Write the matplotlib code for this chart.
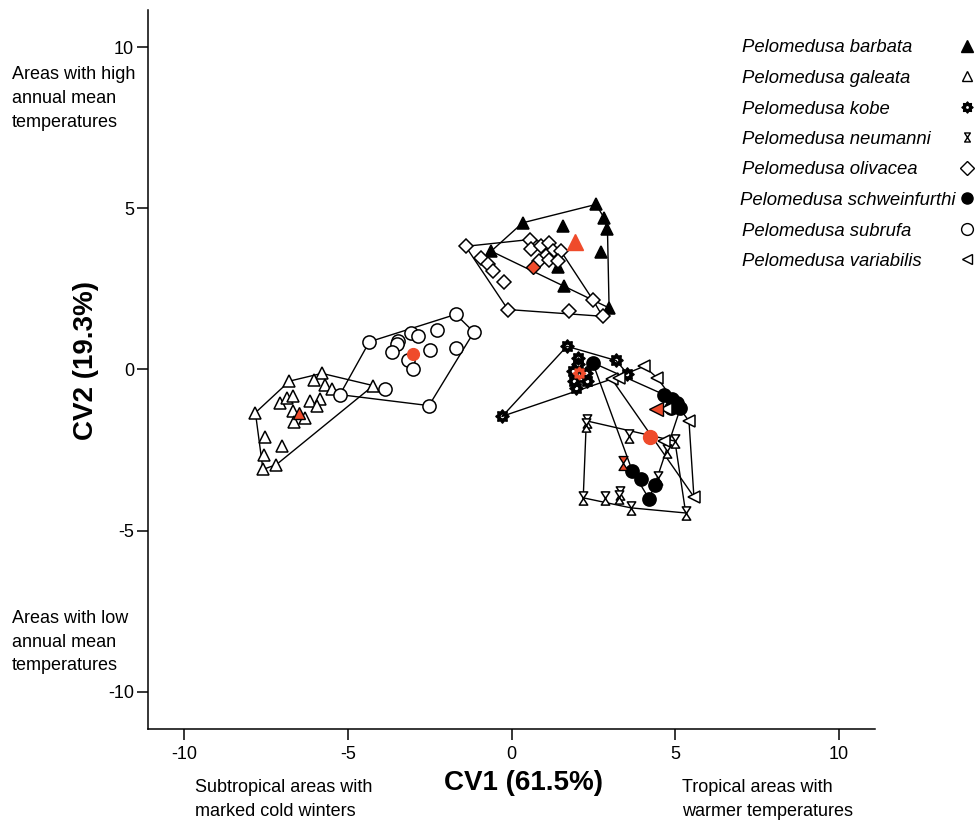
import numpy as np
import matplotlib
matplotlib.use("Agg")
import matplotlib.pyplot as plt
from matplotlib.path import Path
from matplotlib.lines import Line2D

plt.rcParams['font.family'] = ['Liberation Sans', 'DejaVu Sans']

RED = '#EF4B2B'

species = ['Pelomedusa barbata', 'Pelomedusa galeata', 'Pelomedusa kobe',
           'Pelomedusa neumanni', 'Pelomedusa olivacea', 'Pelomedusa schweinfurthi',
           'Pelomedusa subrufa', 'Pelomedusa variabilis']

barbata_x = [2.58, 2.83, 2.93, 1.56, 0.34, -0.62, 2.73, 1.41, 1.61, 2.98]
barbata_y = [5.12, 4.70, 4.36, 4.44, 4.55, 3.67, 3.64, 3.18, 2.60, 1.91]
barbata_c = (1.95, 3.95)

galeata_x = [-6.78, -5.79, -6.03, -5.69, -5.49, -4.22, -7.06, -6.86, -6.66, -6.15, -5.84,
             -5.95, -6.66, -6.30, -6.64, -7.82, -7.52, -7.01, -7.57, -7.18, -7.59]
galeata_y = [-0.36, -0.12, -0.34, -0.47, -0.62, -0.50, -1.03, -0.88, -0.83, -0.98, -0.93,
             -1.12, -1.29, -1.50, -1.63, -1.34, -2.09, -2.38, -2.64, -2.95, -3.10]
galeata_c = (-6.50, -1.34)

kobe_x = [1.69, 2.02, 2.02, 1.87, 2.27, 2.30, 1.92, 1.97, 3.19, 3.54, -0.28]
kobe_y = [0.72, 0.35, 0.16, -0.05, -0.12, -0.36, -0.36, -0.57, 0.28, -0.13, -1.45]
kobe_c = (2.05, -0.10)

neumanni_x = [2.32, 2.28, 3.59, 4.99, 4.76, 4.48, 2.19, 2.86, 3.31, 3.29, 3.64, 5.32]
neumanni_y = [-1.60, -1.72, -2.05, -2.22, -2.53, -3.36, -3.98, -3.98, -3.82, -3.95, -4.29, -4.45]
neumanni_c = (3.41, -2.89)

olivacea_x = [-1.40, -0.92, -0.72, -0.57, -0.23, -0.11, 0.55, 0.60, 0.90, 1.16, 1.26, 1.51,
              1.06, 0.85, 1.16, 1.41, 1.77, 2.48, 2.78]
olivacea_y = [3.82, 3.46, 3.26, 3.05, 2.71, 1.86, 4.03, 3.74, 3.82, 3.93, 3.67, 3.67,
              3.51, 3.36, 3.41, 3.36, 1.81, 2.17, 1.65]
olivacea_c = (0.65, 3.18)

schwein_x = [2.48, 4.66, 4.91, 5.06, 5.16, 4.86, 3.69, 3.95, 4.38, 4.20]
schwein_y = [0.21, -0.78, -0.93, -1.03, -1.19, -1.19, -3.15, -3.41, -3.57, -4.01]
schwein_c = (4.22, -2.09)

subrufa_x = [-1.70, -1.15, -2.29, -3.08, -2.85, -3.46, -3.51, -3.66, -2.48, -1.68, -3.16,
             -3.02, -4.34, -3.85, -5.24, -2.52]
subrufa_y = [1.71, 1.16, 1.24, 1.14, 1.03, 0.88, 0.78, 0.54, 0.62, 0.67, 0.28,
             0.03, 0.86, -0.62, -0.78, -1.12]
subrufa_c = (-3.02, 0.49)

variab_x = [3.07, 3.29, 4.05, 4.45, 4.71, 5.42, 4.66, 5.57]
variab_y = [-0.31, -0.25, 0.10, -0.26, -1.24, -1.60, -2.22, -3.95]
variab_c = (4.40, -1.24)

xticks = [-10, -5, 0, 5, 10]
yticks = [-10, -5, 0, 5, 10]


def star_marker(n=8, r_out=1.0, r_in=0.72, r_hole=0.38):
    verts, codes = [], []
    pts = []
    for i in range(2 * n):
        a = np.pi / 2 + i * np.pi / n
        r = r_out if i % 2 == 0 else r_in
        pts.append((r * np.cos(a), r * np.sin(a)))
    verts += pts + [pts[0]]
    codes += [Path.MOVETO] + [Path.LINETO] * (len(pts) - 1) + [Path.CLOSEPOLY]
    hole = []
    for i in range(24):
        a = -i * 2 * np.pi / 24
        hole.append((r_hole * np.cos(a), r_hole * np.sin(a)))
    verts += hole + [hole[0]]
    codes += [Path.MOVETO] + [Path.LINETO] * (len(hole) - 1) + [Path.CLOSEPOLY]
    return Path(verts, codes)


KOBE = star_marker()
HOURGLASS = Path([(-0.32, 0.5), (0.32, 0.5), (-0.32, -0.5), (0.32, -0.5), (-0.32, 0.5)],
                 [Path.MOVETO, Path.LINETO, Path.LINETO, Path.LINETO, Path.CLOSEPOLY])


def hull(xs, ys):
    pts = sorted(set(zip(xs, ys)))
    def cross(o, a, b):
        return (a[0] - o[0]) * (b[1] - o[1]) - (a[1] - o[1]) * (b[0] - o[0])
    lower, upper = [], []
    for p in pts:
        while len(lower) >= 2 and cross(lower[-2], lower[-1], p) <= 0:
            lower.pop()
        lower.append(p)
    for p in reversed(pts):
        while len(upper) >= 2 and cross(upper[-2], upper[-1], p) <= 0:
            upper.pop()
        upper.append(p)
    h = lower[:-1] + upper[:-1]
    h.append(h[0])
    return [p[0] for p in h], [p[1] for p in h]


styles = {
    'Pelomedusa barbata': dict(marker='^', ms=8.5, fc='black', ec='black', lms=8),
    'Pelomedusa galeata': dict(marker='^', ms=8.5, fc='white', ec='black', lms=7),
    'Pelomedusa kobe': dict(marker=KOBE, ms=9.5, fc='black', ec='black', lms=8),
    'Pelomedusa neumanni': dict(marker=HOURGLASS, ms=9.5, fc='white', ec='black', lms=6.5),
    'Pelomedusa olivacea': dict(marker='D', ms=7, fc='white', ec='black', lms=7),
    'Pelomedusa schweinfurthi': dict(marker='o', ms=9.5, fc='black', ec='black', lms=8),
    'Pelomedusa subrufa': dict(marker='o', ms=9.5, fc='white', ec='black', lms=8.5),
    'Pelomedusa variabilis': dict(marker='<', ms=8.5, fc='white', ec='black', lms=7.5),
}
data = {
    'Pelomedusa barbata': (barbata_x, barbata_y, barbata_c),
    'Pelomedusa galeata': (galeata_x, galeata_y, galeata_c),
    'Pelomedusa kobe': (kobe_x, kobe_y, kobe_c),
    'Pelomedusa neumanni': (neumanni_x, neumanni_y, neumanni_c),
    'Pelomedusa olivacea': (olivacea_x, olivacea_y, olivacea_c),
    'Pelomedusa schweinfurthi': (schwein_x, schwein_y, schwein_c),
    'Pelomedusa subrufa': (subrufa_x, subrufa_y, subrufa_c),
    'Pelomedusa variabilis': (variab_x, variab_y, variab_c),
}
centroid_edge = {
    'Pelomedusa barbata': RED, 'Pelomedusa galeata': 'black', 'Pelomedusa kobe': RED,
    'Pelomedusa neumanni': 'black', 'Pelomedusa olivacea': 'black',
    'Pelomedusa schweinfurthi': RED, 'Pelomedusa subrufa': RED,
    'Pelomedusa variabilis': 'black',
}
centroid_ms = {
    'Pelomedusa barbata': 11, 'Pelomedusa galeata': 8.5, 'Pelomedusa kobe': 9,
    'Pelomedusa neumanni': 10, 'Pelomedusa olivacea': 7.5, 'Pelomedusa schweinfurthi': 10,
    'Pelomedusa subrufa': 8.5, 'Pelomedusa variabilis': 9.5,
}

W, H = 976, 821
fig = plt.figure(figsize=(9.76, 8.21), dpi=100)
ax = fig.add_axes([148 / W, 1 - 729 / H, (875 - 148) / W, (729 - 10) / H])

for sp in species:
    xs, ys, c = data[sp]
    hx, hy = hull(xs, ys)
    ax.plot(hx, hy, color='black', lw=1.0, zorder=2)

for sp in species:
    xs, ys, c = data[sp]
    st = styles[sp]
    ax.plot(xs, ys, ls='none', marker=st['marker'], ms=st['ms'], mfc=st['fc'],
            mec=st['ec'], mew=1.1, zorder=3)

for sp in species:
    xs, ys, c = data[sp]
    st = styles[sp]
    ax.plot([c[0]], [c[1]], ls='none', marker=st['marker'], ms=centroid_ms[sp], mfc=RED,
            mec=centroid_edge[sp], mew=1.0, zorder=4)

ax.set_xlim(-11.1, 11.1)
ax.set_ylim(-11.15, 11.15)
ax.set_xticks(xticks)
ax.set_yticks(yticks)
ax.set_xticklabels([str(t) for t in xticks])
ax.set_yticklabels([str(t) for t in yticks])
for s in ['top', 'right']:
    ax.spines[s].set_visible(False)
for s in ['left', 'bottom']:
    ax.spines[s].set_linewidth(1.1)
ax.tick_params(axis='both', direction='out', length=8, width=1.1, labelsize=13)
ax.tick_params(axis='x', pad=4.5)
ax.tick_params(axis='y', pad=2)

fig.text(523.5 / W, 1 - 783 / H, 'CV1 (61.5%)', ha='center', va='center',
         fontsize=20, fontweight='bold')
fig.text(86 / W, 1 - 360 / H, 'CV2 (19.3%)', ha='center', va='center',
         fontsize=20, fontweight='bold', rotation=90)

LS = 1.52
fig.text(12 / W, 1 - 98.5 / H, 'Areas with high\nannual mean\ntemperatures',
         ha='left', va='center', fontsize=13, linespacing=LS)
fig.text(12 / W, 1 - 642 / H, 'Areas with low\nannual mean\ntemperatures',
         ha='left', va='center', fontsize=13, linespacing=LS)
fig.text(195 / W, 1 - 799.5 / H, 'Subtropical areas with\nmarked cold winters',
         ha='left', va='center', fontsize=13, linespacing=LS)
fig.text(682 / W, 1 - 799.5 / H, 'Tropical areas with\nwarmer temperatures',
         ha='left', va='center', fontsize=13, linespacing=LS)

# legend (text left-aligned, markers in a column to the right)
for i, sp in enumerate(species):
    st = styles[sp]
    yc = 46 + i * 30.5
    xt = 740 if sp == 'Pelomedusa schweinfurthi' else 741.5
    fig.text(xt / W, 1 - (yc + 6.5) / H, sp, ha='left', va='baseline',
             fontsize=13.3, style='italic')
    fig.add_artist(Line2D([967 / W], [1 - yc / H], transform=fig.transFigure, ls='none',
                          marker=st['marker'], ms=st['lms'], mfc=st['fc'], mec=st['ec'],
                          mew=1.0))

fig.savefig('out.png', dpi=100)
